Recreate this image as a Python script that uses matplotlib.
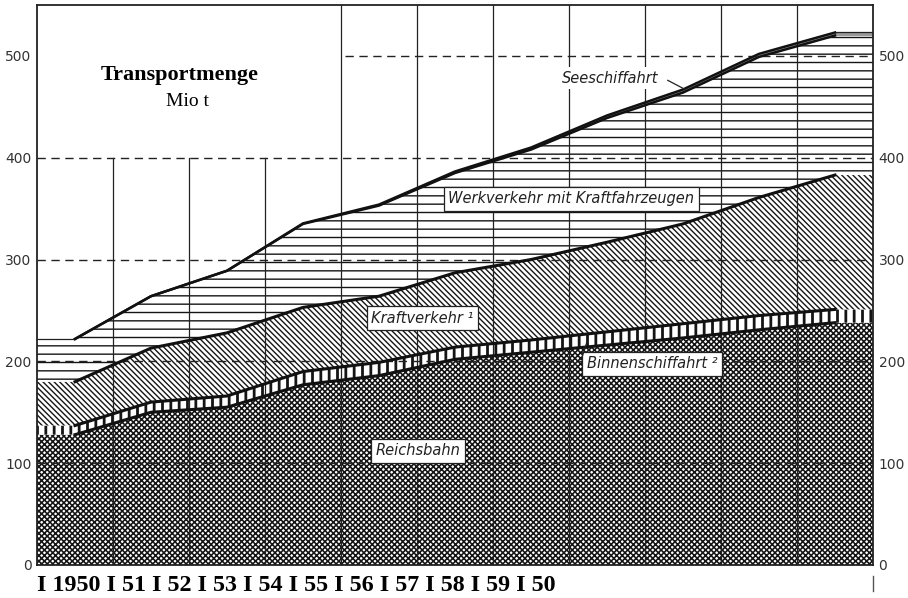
import matplotlib
matplotlib.use('Agg')
import matplotlib.pyplot as plt
from matplotlib.lines import Line2D
import numpy as np

# ---- data (Mio t) ----
years = [1950, 1951, 1952, 1953, 1954, 1955, 1956, 1957, 1958, 1959, 1960]
reichsbahn = [128, 150, 155, 177, 186, 202, 209, 216, 223, 231, 238]
binnenschiffahrt = [9, 10, 11, 13, 13, 12, 12, 13, 14, 14, 13]
kraftverkehr = [43, 53, 62, 63, 65, 73, 79, 88, 98, 116, 132]
werkverkehr = [42, 51, 61, 82, 89, 98, 108, 122, 129, 138, 137]
seeschiffahrt = [0, 0, 0, 0.5, 1, 1.5, 2, 2.5, 3, 3, 3]
y_ticks = [0, 100, 200, 300, 400, 500]
x_labels = ["1950", "51", "52", "53", "54", "55", "56", "57", "58", "59", "50"]

plt.rcParams['hatch.linewidth'] = 1.0

W, H = 908, 598
fig = plt.figure(figsize=(W / 100, H / 100), dpi=100)
ax = fig.add_axes([37 / W, 33 / H, 836 / W, 560 / H])
ax.set_xlim(-0.5, 10.5)
ax.set_ylim(0, 550)

x = np.arange(len(years))
xe = np.concatenate([[x[0] - 0.5], x, [x[-1] + 0.5]])


def ext(a):
    a = np.asarray(a, dtype=float)
    return np.concatenate([[a[0]], a, [a[-1]]])


layers = [reichsbahn, binnenschiffahrt, kraftverkehr, werkverkehr, seeschiffahrt]
cum = np.cumsum(np.array(layers, dtype=float), axis=0)
bottoms = [np.zeros(len(x))] + [cum[i] for i in range(4)]
hatches = ['xxxxxx', '||', '\\' * 6, '--', None]
faces = ['white', 'white', 'white', 'white', '#9a9a9a']
hatch_lws = [1.15, 2.0, 1.0, 1.0, 1.0]

for i in range(5):
    coll = ax.fill_between(xe, ext(bottoms[i]), ext(cum[i]), facecolor=faces[i],
                           edgecolor='#151515', hatch=hatches[i], linewidth=0, zorder=1)
    if hasattr(coll, 'set_hatch_linewidth'):
        try:
            coll.set_hatch_linewidth(hatch_lws[i])
        except Exception:
            pass

# thin top edge of the flat extensions of the Werkverkehr area
ax.plot([-0.5, 0], [cum[4][0], cum[4][0]], color='#222', lw=0.9, zorder=2)
ax.plot([10, 10.5], [cum[4][-1], cum[4][-1]], color='#222', lw=0.9, zorder=2)

# grid
for xv in np.arange(0.5, 10):
    ymax = 400 if xv < 3 else 550
    ax.plot([xv, xv], [0, ymax], color='#222', lw=0.9, zorder=2)
for yv in [100, 200, 300, 400]:
    ax.plot([-0.5, 10.5], [yv, yv], color='#222', lw=1.0, ls=(0, (6, 4)), zorder=2)
ax.plot([3.55, 10.5], [500, 500], color='#222', lw=1.0, ls=(0, (6, 4)), zorder=2)

# boundary lines
for i in range(5):
    lw = 2.2 if i < 3 else 1.8
    ax.plot(x, cum[i], color='#111', lw=lw, zorder=3, solid_joinstyle='round')

# labels
lab_kw = dict(ha='center', va='center', fontsize=10.5, style='italic',
              family='DejaVu Sans', color='#222', zorder=6)
box = dict(boxstyle='square,pad=0.3', facecolor='white', edgecolor='#222', linewidth=0.9)
ax.text(7.04, 478, 'Seeschiffahrt',
        bbox=dict(boxstyle='square,pad=0.25', facecolor='white', edgecolor='none'), **lab_kw)
ax.plot([7.80, 8.03], [476, 467], color='#222', lw=0.9, zorder=6)
ax.text(6.53, 359.5, 'Werkverkehr mit Kraftfahrzeugen', bbox=box, **lab_kw)
ax.text(4.57, 242.5, 'Kraftverkehr ¹', bbox=box, **lab_kw)
ax.text(7.59, 197.5, 'Binnenschiffahrt ²', bbox=box, **lab_kw)
ax.plot([6.68, 6.74], [206, 220], color='#222', lw=0.9, zorder=6)
ax.text(4.51, 112, 'Reichsbahn', bbox=box, **lab_kw)

# axes styling
for s in ax.spines.values():
    s.set_linewidth(1.3)
    s.set_color('#222')
    s.set_zorder(7)
ax.set_yticks(y_ticks)
ax.set_yticklabels([str(v) for v in y_ticks])
ax.set_xticks([])
ax.tick_params(axis='y', length=0, labelsize=10, labelcolor='#333',
               labelleft=True, labelright=True, pad=4)

# title
fig.text(180 / W, 1 - 80 / H, 'Transportmenge', family='Liberation Serif',
         fontweight='bold', fontsize=16, ha='center', va='baseline')
fig.text(187 / W, 1 - 106 / H, 'Mio t', family='Liberation Serif',
         fontsize=14, ha='center', va='baseline')

# year labels under the chart
fig.text(37 / W, 1 - 591 / H, 'I ' + ' I '.join(x_labels), family='Liberation Serif',
         fontweight='bold', fontsize=17.3, ha='left', va='baseline')
fig.add_artist(Line2D([873 / W, 873 / W], [1 - 576 / H, 1 - 591 / H],
                      color='#555', lw=1.0, transform=fig.transFigure))

fig.savefig('out.png', dpi=100, facecolor='white')
